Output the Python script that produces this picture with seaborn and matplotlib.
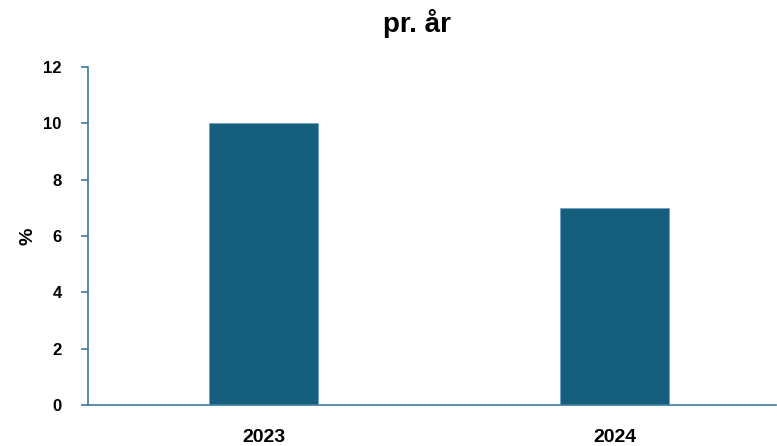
import matplotlib
matplotlib.use("Agg")
import matplotlib.pyplot as plt
import seaborn as sns
import pandas as pd

years = ["2023", "2024"]
values = [10, 7]
y_ticks = [0, 2, 4, 6, 8, 10, 12]

sns.set_theme(style="white")
plt.rcParams["font.family"] = ["Liberation Sans", "DejaVu Sans"]
plt.rcParams["text.color"] = "black"
plt.rcParams["axes.labelcolor"] = "black"
plt.rcParams["xtick.color"] = "black"
plt.rcParams["ytick.color"] = "black"

df = pd.DataFrame({"year": years, "value": values})

fig = plt.figure(figsize=(7.77, 4.46), dpi=100)
ax = fig.add_axes([88 / 777, 41 / 446, (776 - 88) / 777, (405 - 67) / 446])

sns.barplot(data=df, x="year", y="value", color="#165E7E", saturation=1,
            width=0.31, edgecolor="#6FA3C0", linewidth=0.6, ax=ax)

ax.set_ylim(0, 12)
ax.set_xlim(-0.5, 1.46)
ax.set_yticks(y_ticks)
ax.set_yticklabels([str(t) for t in y_ticks], fontsize=12, fontweight="bold")
ax.set_xticklabels(years, fontsize=14, fontweight="bold")
ax.set_xlabel("")
ax.set_ylabel("%", fontsize=14, fontweight="bold", labelpad=0)
ax.yaxis.set_label_coords((37 - 88) / 688, 0.5)

spine_color = "#3C7CA3"
for side in ["top", "right"]:
    ax.spines[side].set_visible(False)
for side in ["left", "bottom"]:
    ax.spines[side].set_color(spine_color)
    ax.spines[side].set_linewidth(1.2)

ax.tick_params(axis="y", which="major", length=5, width=1.2, color=spine_color,
               left=True, pad=14)
ax.tick_params(axis="x", length=0, pad=17)

fig.suptitle("pr. år", fontsize=20, fontweight="bold", y=0.98, x=0.537)

fig.savefig("out.png", dpi=100)
